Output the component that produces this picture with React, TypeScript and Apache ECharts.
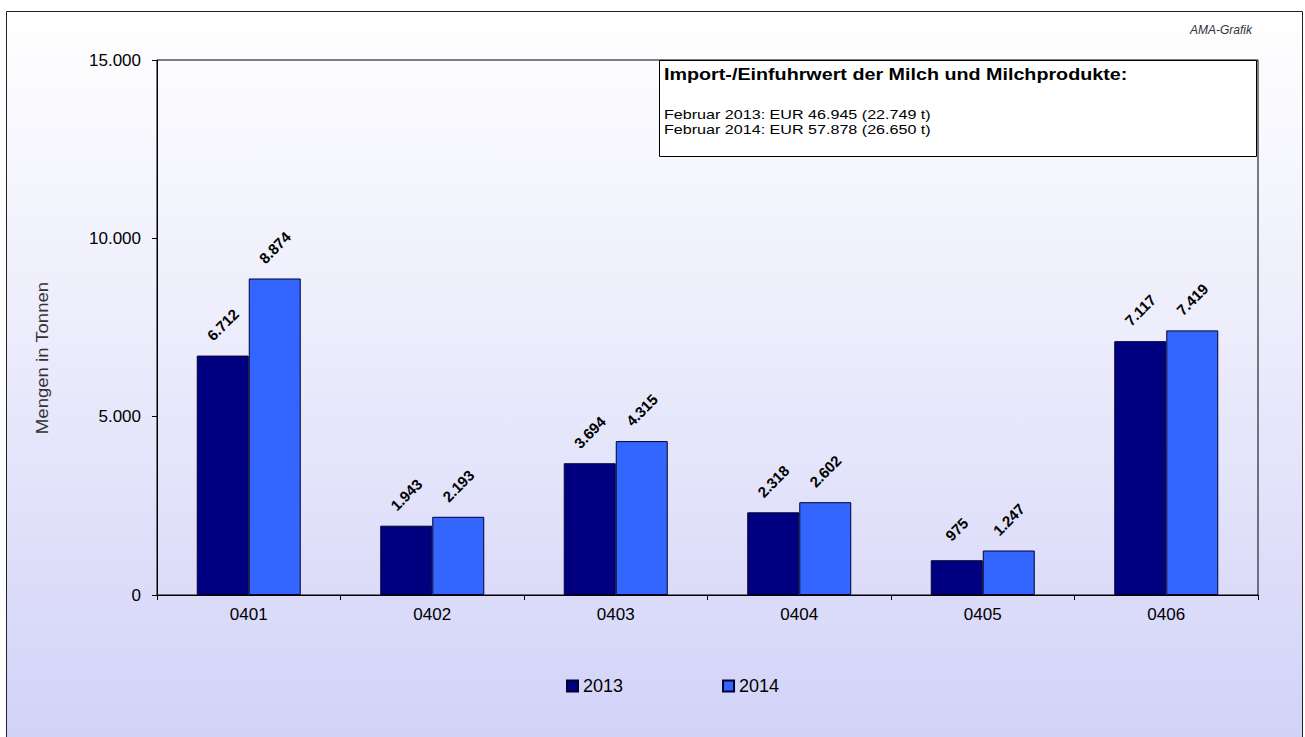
import React, { useEffect, useRef } from "react";
import * as echarts from "echarts";

const categories = ["0401", "0402", "0403", "0404", "0405", "0406"];
const values2013 = [6712, 1943, 3694, 2318, 975, 7117];
const values2014 = [8874, 2193, 4315, 2602, 1247, 7419];
const yTicks = [0, 5000, 10000, 15000];
const boxTitle = "Import-/Einfuhrwert der Milch und Milchprodukte:";
const boxLines = ["Februar 2013: EUR 46.945 (22.749 t)", "Februar 2014: EUR 57.878 (26.650 t)"];

const FONT = "'Liberation Sans', Arial, sans-serif";

function fmt(v: number): string {
  return String(Math.round(v)).replace(/\B(?=(\d{3})+(?!\d))/g, ".");
}

export default function App() {
  const ref = useRef<HTMLDivElement>(null);
  useEffect(() => {
    document.body.style.margin = "0";
    const chart = echarts.init(ref.current!, null, { renderer: "svg" });
    const label = {
      show: true,
      position: "top",
      distance: 31,
      rotate: 45,
      align: "center",
      verticalAlign: "middle",
      fontFamily: FONT,
      fontWeight: "bold",
      fontSize: 15,
      color: "#000",
      formatter: (p: any) => fmt(p.value),
    };
    chart.setOption({
      animation: false,
      backgroundColor: "#ffffff",
      textStyle: { fontFamily: FONT },
      grid: {
        left: 157,
        right: 47,
        top: 60,
        bottom: 142,
        show: true,
        borderColor: "#000",
        borderWidth: 1,
        backgroundColor: "transparent",
      },
      legend: {
        left: 566,
        top: 677,
        padding: 0,
        icon: "rect",
        itemWidth: 11,
        itemHeight: 11,
        itemGap: 99,
        textStyle: { fontSize: 18, color: "#000", fontFamily: FONT },
        data: ["2013", "2014"],
      },
      xAxis: {
        type: "category",
        data: categories,
        axisLine: { show: true, lineStyle: { color: "#000", width: 1 } },
        axisTick: { show: true, length: 5, lineStyle: { color: "#000" } },
        axisLabel: { fontSize: 17, color: "#000", margin: 11, fontFamily: FONT },
      },
      yAxis: {
        type: "value",
        min: 0,
        max: 15000,
        interval: 5000,
        axisLine: { show: true, lineStyle: { color: "#000", width: 1 } },
        axisTick: { show: true, length: 5, lineStyle: { color: "#000" } },
        axisLabel: {
          fontSize: 17,
          color: "#000",
          margin: 16,
          fontFamily: FONT,
          formatter: (v: number) => (yTicks.includes(v) ? fmt(v) : ""),
        },
        splitLine: { show: false },
      },
      graphic: [
        {
          type: "rect",
          z: -100,
          silent: true,
          shape: { x: 6.5, y: 11.5, width: 1296, height: 730 },
          style: {
            fill: new echarts.graphic.LinearGradient(0, 0, 0, 1, [
              { offset: 0, color: "#ffffff" },
              { offset: 0.45, color: "#ececfc" },
              { offset: 1, color: "#d2d2f8" },
            ]),
            stroke: "#222",
            lineWidth: 1,
          },
        },
        {
          type: "text",
          z: 10,
          x: 1252,
          y: 30,
          style: {
            text: "AMA-Grafik",
            fontFamily: FONT,
            fontStyle: "italic",
            fontSize: 12,
            fill: "#333",
            align: "right",
            verticalAlign: "middle",
          },
        },
        {
          type: "text",
          z: 10,
          x: 42,
          y: 358,
          rotation: Math.PI / 2,
          scaleX: 1.16,
          style: {
            text: "Mengen in Tonnen",
            fontFamily: FONT,
            fontSize: 16,
            fill: "#333",
            align: "center",
            verticalAlign: "middle",
          },
        },
        {
          type: "rect",
          z: 10,
          shape: { x: 659.5, y: 60.5, width: 597, height: 96 },
          style: { fill: "#ffffff", stroke: "#000", lineWidth: 1 },
        },
        {
          type: "text",
          z: 11,
          x: 664,
          y: 74,
          scaleX: 1.16,
          style: {
            text: boxTitle,
            fontFamily: FONT,
            fontWeight: "bold",
            fontSize: 17,
            fill: "#000",
            verticalAlign: "middle",
          },
        },
        {
          type: "text",
          z: 11,
          x: 664,
          y: 115,
          scaleX: 1.24,
          style: {
            text: boxLines[0],
            fontFamily: FONT,
            fontSize: 13,
            fill: "#000",
            verticalAlign: "middle",
          },
        },
        {
          type: "text",
          z: 11,
          x: 664,
          y: 130,
          scaleX: 1.24,
          style: {
            text: boxLines[1],
            fontFamily: FONT,
            fontSize: 13,
            fill: "#000",
            verticalAlign: "middle",
          },
        },
      ],
      series: [
        {
          name: "2013",
          type: "bar",
          data: values2013,
          barWidth: 52,
          barGap: "0%",
          itemStyle: { color: "#000080", borderColor: "#000033", borderWidth: 1 },
          label,
        },
        {
          name: "2014",
          type: "bar",
          data: values2014,
          barWidth: 52,
          barGap: "0%",
          itemStyle: { color: "#3366ff", borderColor: "#000033", borderWidth: 1 },
          label,
        },
      ],
    });
    return () => chart.dispose();
  }, []);
  return <div ref={ref} style={{ width: 1305, height: 737 }} />;
}
